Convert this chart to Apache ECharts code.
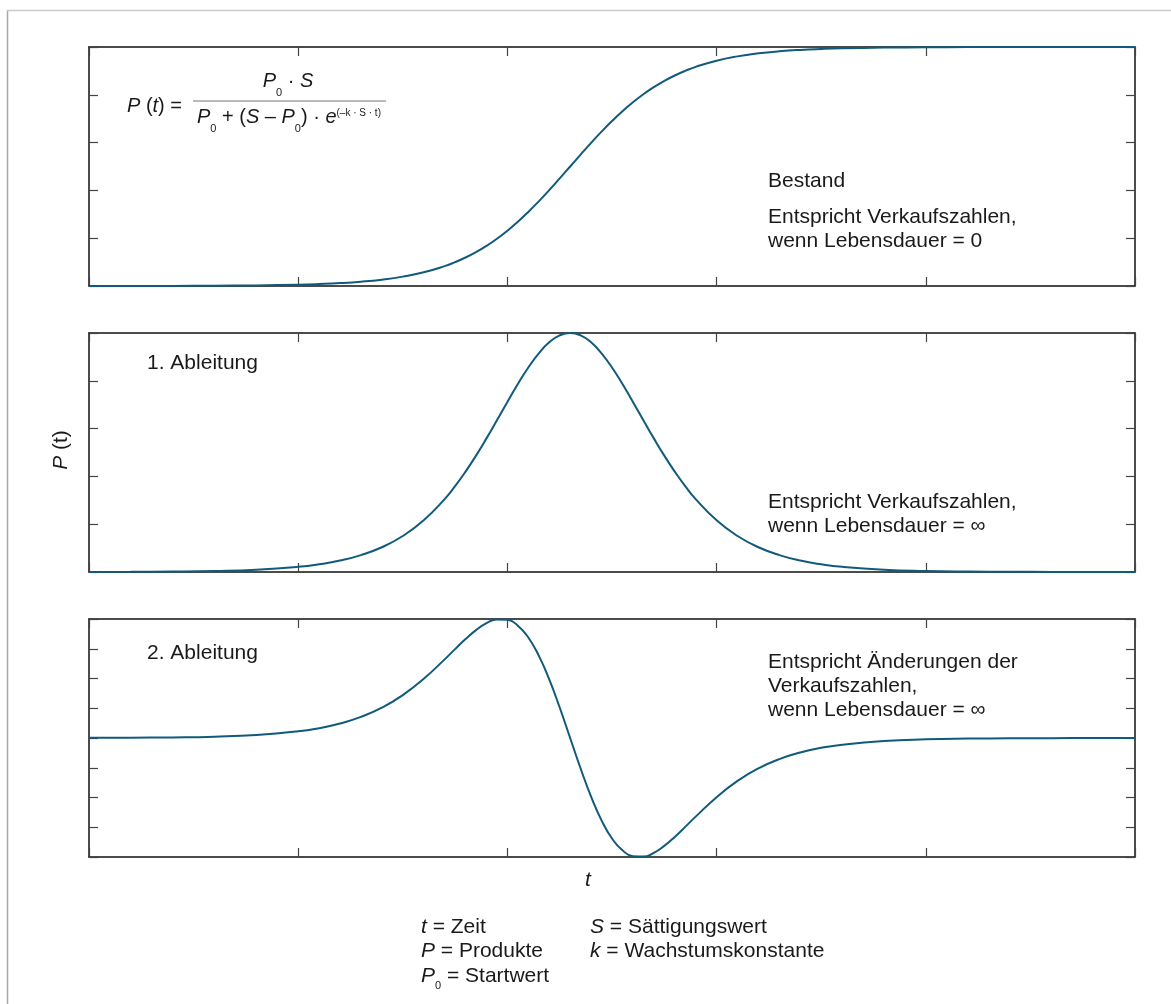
<!DOCTYPE html>
<html>
<head>
<meta charset="utf-8">
<script src="https://cdn.jsdelivr.net/npm/echarts@6/dist/echarts.min.js"></script>
<style>
html,body{margin:0;padding:0;background:#fff;}
#chart{width:1171px;height:1004px;}
</style>
</head>
<body>
<div id="chart"></div>
<script>
// ---- data ----
const tValues = [0,4,8,12,16,20,22,24,26,28,30,32,34,35,36,37,38,39,40,41,42,43,44,45,46,47,48,49,50,51,52,53,54,55,56,57,58,60,62,64,66,68,70,72,76,80,84,88,92,96,100];
const bestand = [0.0001,0.0002,0.0005,0.0011,0.0025,0.0055,0.0082,0.0121,0.0180,0.0266,0.0392,0.0573,0.0832,0.0998,0.1192,0.1419,0.1680,0.1978,0.2315,0.2689,0.3100,0.3543,0.4013,0.4502,0.5000,0.5498,0.5987,0.6457,0.6900,0.7311,0.7685,0.8022,0.8320,0.8581,0.8808,0.9002,0.9168,0.9427,0.9608,0.9734,0.9820,0.9879,0.9918,0.9945,0.9975,0.9989,0.9995,0.9998,0.9999,1.0000,1.0000];
const ableitung1 = [0.0004,0.0009,0.0020,0.0045,0.0099,0.0218,0.0324,0.0479,0.0707,0.1036,0.1505,0.2162,0.3050,0.3592,0.4200,0.4869,0.5591,0.6347,0.7116,0.7864,0.8556,0.9151,0.9610,0.9901,1.0000,0.9901,0.9610,0.9151,0.8556,0.7864,0.7116,0.6347,0.5591,0.4869,0.4200,0.3592,0.3050,0.2162,0.1505,0.1036,0.0707,0.0479,0.0324,0.0218,0.0099,0.0045,0.0020,0.0009,0.0004,0.0002,0.0001];
const ableitung2 = [0.0011,0.0023,0.0052,0.0115,0.0255,0.0561,0.0828,0.1215,0.1770,0.2547,0.3605,0.4972,0.6607,0.7471,0.8310,0.9062,0.9645,0.9967,0.9929,0.9442,0.8446,0.6926,0.4928,0.2564,0.0000,-0.2564,-0.4928,-0.6926,-0.8446,-0.9442,-0.9929,-0.9967,-0.9645,-0.9062,-0.8310,-0.7471,-0.6607,-0.4972,-0.3605,-0.2547,-0.1770,-0.1215,-0.0828,-0.0561,-0.0255,-0.0115,-0.0052,-0.0023,-0.0011,-0.0005,-0.0002];
const xRange = [0, 100, 20];
const yRanges = [[0, 1, 0.2], [0, 1, 0.2], [-1, 1, 0.25]];

const FONT = '"Liberation Sans", Arial, sans-serif';
const TXT = '#1a1a1a';
const LINE = '#115a7b';

const chart = echarts.init(document.getElementById('chart'), null, {renderer: 'canvas'});

const grids = [
  {left: 89, right: 36, top: 47, height: 239},
  {left: 89, right: 36, top: 333, height: 239},
  {left: 89, right: 36, top: 619, height: 238}
];

function axisCommon() {
  return {
    axisLine: {show: true, onZero: false, lineStyle: {color: '#111', width: 1.5}},
    axisTick: {show: true, inside: true, length: 9, lineStyle: {color: '#444', width: 1.2}},
    axisLabel: {show: false},
    splitLine: {show: false}
  };
}

const xAxes = [], yAxes = [];
grids.forEach((g, i) => {
  ['bottom', 'top'].forEach(pos => {
    xAxes.push(Object.assign({type: 'value', gridIndex: i, position: pos, min: xRange[0], max: xRange[1], interval: xRange[2]}, axisCommon()));
  });
  ['left', 'right'].forEach(pos => {
    yAxes.push(Object.assign({type: 'value', gridIndex: i, position: pos, min: yRanges[i][0], max: yRanges[i][1], interval: yRanges[i][2]}, axisCommon()));
  });
});

const seriesData = [bestand, ableitung1, ableitung2];
const series = seriesData.map((arr, i) => ({
  type: 'line',
  xAxisIndex: i * 2,
  yAxisIndex: i * 2,
  data: tValues.map((t, k) => [t, arr[k]]),
  smooth: true,
  showSymbol: false,
  clip: false,
  lineStyle: {color: LINE, width: 2},
  z: 3
}));

function txt(x, y, text, extra) {
  return {
    type: 'text', x: x, y: y, z: 10,
    style: Object.assign({
      text: text, fill: TXT, fontSize: 21, fontFamily: FONT,
      align: 'left', verticalAlign: 'middle'
    }, extra || {})
  };
}

const richLegend = {
  i: {fontStyle: 'italic', fontSize: 21, fontFamily: FONT, fill: TXT, lineHeight: 30},
  n: {fontSize: 21, fontFamily: FONT, fill: TXT, lineHeight: 30},
  sub: {fontSize: 11, fontFamily: FONT, fill: TXT, lineHeight: 11, verticalAlign: 'bottom'}
};
const richF = {
  i: {fontStyle: 'italic', fontSize: 20, fontFamily: FONT, fill: TXT, lineHeight: 34},
  n: {fontSize: 20, fontFamily: FONT, fill: TXT, lineHeight: 34},
  sub: {fontSize: 11, fontFamily: FONT, fill: TXT, lineHeight: 11, verticalAlign: 'bottom'},
  sup: {fontSize: 10, fontFamily: FONT, fill: TXT, lineHeight: 10, padding: [0, 0, 8, 0]}
};

const graphic = [
  // outer frame
  {type: 'line', shape: {x1: 7.5, y1: 10, x2: 7.5, y2: 1004}, style: {stroke: '#a8a8a8', lineWidth: 1.5}},
  {type: 'line', shape: {x1: 7, y1: 10.5, x2: 1171, y2: 10.5}, style: {stroke: '#cacaca', lineWidth: 1.5}},
  // formula
  txt(127, 106, '{i|P}{n| (}{i|t}{n|) =}', {rich: richF, fontSize: 20, lineHeight: 34}),
  txt(288, 81, '{i|P}{sub|0}{n| · }{i|S}', {rich: richF, fontSize: 20, lineHeight: 34, align: 'center'}),
  {type: 'line', shape: {x1: 193, y1: 101, x2: 386, y2: 101}, style: {stroke: '#777', lineWidth: 1}},
  txt(289, 117, '{i|P}{sub|0}{n| + (}{i|S}{n| – }{i|P}{sub|0}{n|) · }{i|e}{sup|(–k · S · t)}', {rich: richF, fontSize: 20, lineHeight: 34, align: 'center'}),
  // panel texts
  txt(768, 181, 'Bestand'),
  txt(768, 217, 'Entspricht Verkaufszahlen,'),
  txt(768, 241, 'wenn Lebensdauer = 0'),
  txt(147, 363, '1. Ableitung'),
  txt(768, 502, 'Entspricht Verkaufszahlen,'),
  txt(768, 526, 'wenn Lebensdauer = ∞'),
  txt(147, 653, '2. Ableitung'),
  txt(768, 662, 'Entspricht Änderungen der'),
  txt(768, 686, 'Verkaufszahlen,'),
  txt(768, 710, 'wenn Lebensdauer = ∞'),
  // axis titles
  {type: 'text', x: 61, y: 450, rotation: Math.PI / 2, z: 10,
   style: {text: '{i|P} (t)', rich: richLegend, fill: TXT, fontSize: 21, fontFamily: FONT, lineHeight: 30, align: 'center', verticalAlign: 'middle'}},
  txt(588, 880, 't', {fontStyle: 'italic', align: 'center'}),
  // legend
  txt(421, 927, '{i|t}{n| = Zeit}', {rich: richLegend, lineHeight: 30}),
  txt(421, 951, '{i|P}{n| = Produkte}', {rich: richLegend, lineHeight: 30}),
  txt(421, 976, '{i|P}{sub|0}{n| = Startwert}', {rich: richLegend, lineHeight: 30}),
  txt(590, 927, '{i|S}{n| = Sättigungswert}', {rich: richLegend, lineHeight: 30}),
  txt(590, 951, '{i|k}{n| = Wachstumskonstante}', {rich: richLegend, lineHeight: 30})
];

chart.setOption({
  animation: false,
  backgroundColor: '#ffffff',
  grid: grids,
  xAxis: xAxes,
  yAxis: yAxes,
  series: series,
  graphic: graphic
});
</script>
</body>
</html>
